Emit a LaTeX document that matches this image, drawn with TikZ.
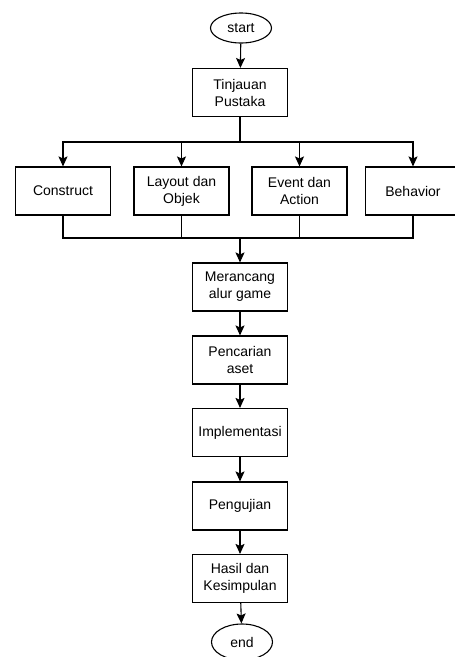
\documentclass[tikz,border=0pt]{standalone}
\usepackage{fontspec}
\setmainfont{Liberation Sans}
\usetikzlibrary{arrows.meta,shapes.geometric}
\begin{document}
\begin{tikzpicture}[x=1pt,y=1pt,
  box/.style={draw,line width=1.1pt,minimum width=95pt,minimum height=48pt,inner sep=2pt,align=center,font=\fontsize{14}{17}\selectfont},
  term/.style={draw,ellipse,line width=1.1pt,minimum width=61pt,minimum height=30pt,inner sep=0pt,font=\fontsize{14}{17}\selectfont},
  line/.style={line width=1.1pt},
  arr/.style={line width=1.1pt,-{Stealth[length=10pt,width=9pt,inset=2pt]}}]
\useasboundingbox (0,0) rectangle (455,-657);
\clip (0,0) rectangle (455,-657);
\node[term] (start) at (241,-28) {start};
\node[box] (tin) at (240,-92.5) {Tinjauan\\Pustaka};
\node[box] (con) at (63,-191) {Construct};
\node[box] (lay) at (181.5,-191) {Layout dan\\Objek};
\node[box] (evt) at (299.5,-191) {Event dan\\Action};
\node[box] (beh) at (413,-191) {Behavior};
\node[box] (mer) at (240,-287) {Merancang\\alur game};
\node[box] (pen) at (240,-360) {Pencarian\\aset};
\node[box] (imp) at (240,-432.5) {Implementasi};
\node[box] (uji) at (240,-506) {Pengujian};
\node[box] (has) at (240,-578.5) {Hasil dan\\Kesimpulan};
\node[term,minimum height=36pt] (end) at (242,-642) {end};
\coordinate (br) at (240,-142);
\coordinate (mg) at (240,-238);
\draw[arr] (start) -- (tin);
\draw[line] (tin.south) -- (br);
\draw[arr] (br) -| (con.north);
\draw[arr] (br) -| (lay.north);
\draw[arr] (br) -| (evt.north);
\draw[arr] (br) -| (beh.north);
\draw[line] (con.south) |- (mg);
\draw[line] (lay.south) |- (mg);
\draw[line] (evt.south) |- (mg);
\draw[line] (beh.south) |- (mg);
\draw[arr] (mg) -- (mer.north);
\draw[arr] (mer) -- (pen);
\draw[arr] (pen) -- (imp);
\draw[arr] (imp) -- (uji);
\draw[arr] (uji) -- (has);
\draw[arr] (has) -- (end);
\end{tikzpicture}
\end{document}
